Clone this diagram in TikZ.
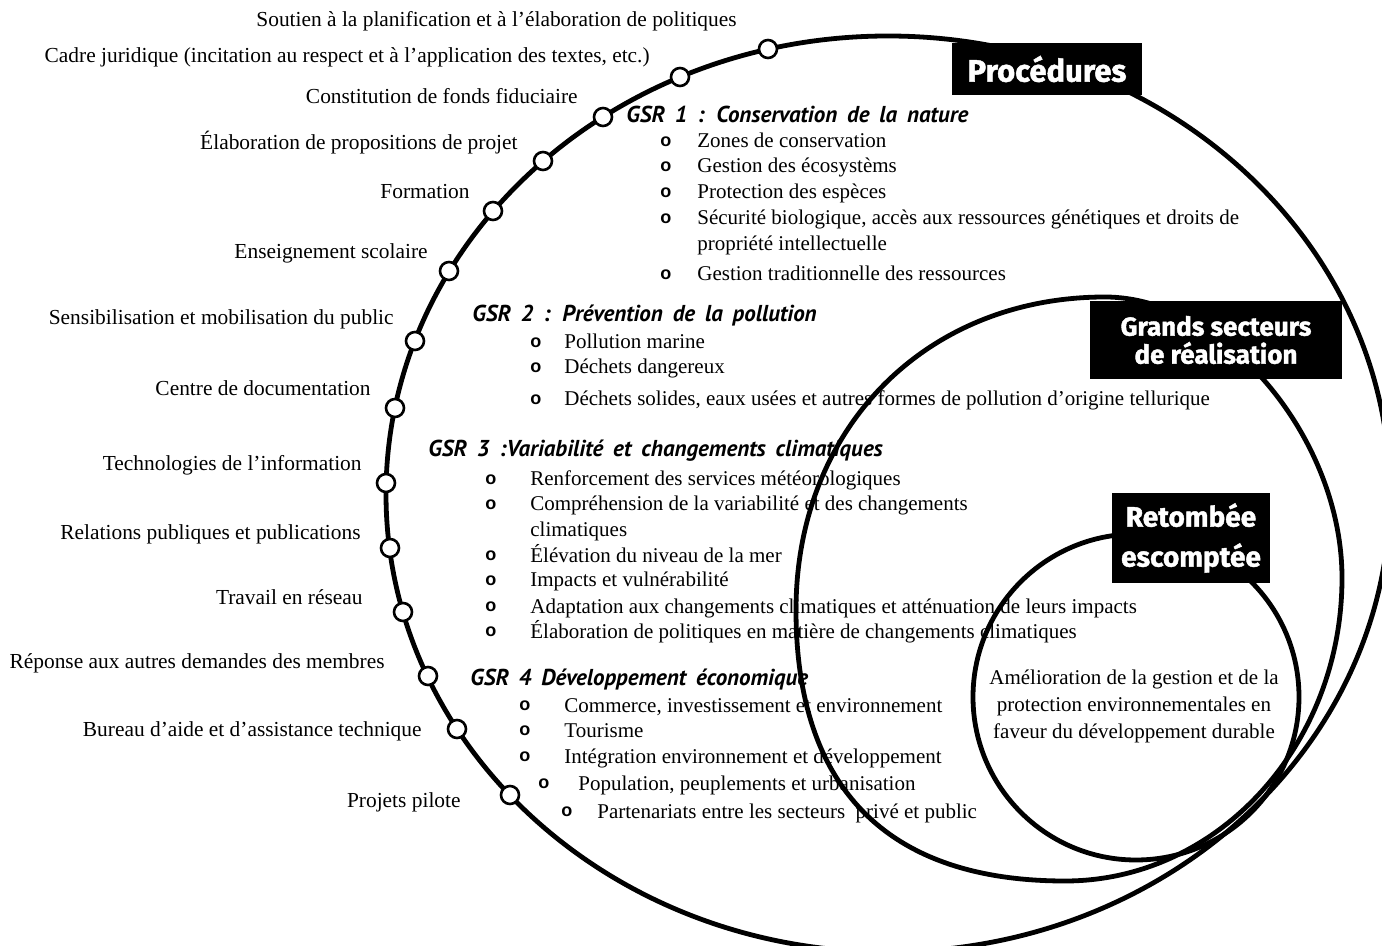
\documentclass[tikz,border=0pt]{standalone}
\usepackage{fontspec}
\setmainfont{Liberation Serif}
\newfontfamily\gsrfont{PT Sans}[WordSpace=1.7]
\newfontfamily\tagfont{Fira Sans}[BoldFeatures={FakeBold=1.5}]
\newfontfamily\pucefont{Liberation Sans}
\newcommand{\puce}[1]{\makebox[#1][l]{\raisebox{0.8pt}{\pucefont\bfseries\fontsize{9}{9}\selectfont o}}}

\begin{document}
\begin{tikzpicture}[x=0.5pt,y=-0.5pt,
  ligne/.style={line width=2.4pt},
  pt/.style={circle,draw,fill=white,line width=1.3pt,minimum size=9pt,inner sep=0pt},
  lab/.style={anchor=base east,inner sep=0pt,font=\fontsize{10.7}{12.8}\selectfont},
  itm/.style={anchor=base west,inner sep=0pt,font=\fontsize{10.5}{12.6}\selectfont},
  gsr/.style={anchor=base west,inner sep=0pt,font=\gsrfont\bfseries\itshape\fontsize{11.5}{13}\selectfont},
  tag/.style={fill=black,text=white,align=center,inner sep=0pt}]
  \useasboundingbox (0,0) rectangle (1382,946);

  % Procedures
  \draw[ligne] (888,494) ellipse [x radius=502, y radius=458];
  % Grands secteurs
  \draw[ligne] (796,610) .. controls (796,428) and (926,297) .. (1105,297)
    .. controls (1224,297) and (1342,438) .. (1342,578)
    .. controls (1342,745) and (1218,881) .. (1065,881)
    .. controls (888,881) and (796,789) .. cycle;
  % Retombee
  \draw[ligne] (1136,697) circle[radius=163];

  \node[pt] (d1) at (768,49) {};
  \node[pt] (d2) at (680,77) {};
  \node[pt] (d3) at (603,117) {};
  \node[pt] (d4) at (543,161) {};
  \node[pt] (d5) at (493,211) {};
  \node[pt] (d6) at (449,271) {};
  \node[pt] (d7) at (415,341) {};
  \node[pt] (d8) at (395,408) {};
  \node[pt] (d9) at (386,483) {};
  \node[pt] (d10) at (390,548) {};
  \node[pt] (d11) at (403,612) {};
  \node[pt] (d12) at (428,676) {};
  \node[pt] (d13) at (457,729) {};
  \node[pt] (d14) at (510,795) {};

  \node[lab] (l1) at (737,27) {Soutien à la planification et à l’élaboration de politiques};
  \node[lab] (l2) at (650,63) {Cadre juridique (incitation au respect et à l’application des textes, etc.)};
  \node[lab] (l3) at (578,104) {Constitution de fonds fiduciaire};
  \node[lab] (l4) at (518,150) {Élaboration de propositions de projet};
  \node[lab] (l5) at (470,199) {Formation};
  \node[lab] (l6) at (428,259) {Enseignement scolaire};
  \node[lab] (l7) at (394,325) {Sensibilisation et mobilisation du public};
  \node[lab] (l8) at (371,396) {Centre de documentation};
  \node[lab] (l9) at (362,471) {Technologies de l’information};
  \node[lab] (l10) at (361,539) {Relations publiques et publications};
  \node[lab] (l11) at (363,604) {Travail en réseau};
  \node[lab] (l12) at (385,668) {Réponse aux autres demandes des membres};
  \node[lab] (l13) at (422,736) {Bureau d’aide et d’assistance technique};
  \node[lab] (l14) at (461,807) {Projets pilote};

  % GSR 1
  \node[gsr] (g1) at (626,123) {GSR 1 : Conservation de la nature};
  \node[itm] (g1a) at (660,148) {\puce{18.5pt}Zones de conservation};
  \node[itm] (g1b) at (660,173) {\puce{18.5pt}Gestion des écosystèms};
  \node[itm] (g1c) at (660,199) {\puce{18.5pt}Protection des espèces};
  \node[itm] (g1d) at (660,225) {\puce{18.5pt}\begin{tabular}[t]{@{}l@{}}Sécurité biologique, accès aux ressources génétiques et droits de\\propriété intellectuelle\end{tabular}};
  \node[itm] (g1e) at (660,281) {\puce{18.5pt}Gestion traditionnelle des ressources};
  % GSR 2
  \node[gsr] (g2) at (472,322) {GSR 2 : Prévention de la pollution};
  \node[itm] (g2a) at (530,349) {\puce{17pt}Pollution marine};
  \node[itm] (g2b) at (530,374) {\puce{17pt}Déchets dangereux};
  \node[itm] (g2c) at (530,406) {\puce{17pt}Déchets solides, eaux usées et autres formes de pollution d’origine tellurique};
  % GSR 3
  \node[gsr] (g3) at (428,457) {GSR 3 :Variabilité et changements climatiques};
  \node[itm] (g3a) at (485,486) {\puce{22.5pt}Renforcement des services météorologiques};
  \node[itm] (g3b) at (485,511) {\puce{22.5pt}\begin{tabular}[t]{@{}l@{}}Compréhension de la variabilité et des changements\\climatiques\end{tabular}};
  \node[itm] (g3c) at (485,562) {\puce{22.5pt}Élévation du niveau de la mer};
  \node[itm] (g3d) at (485,587) {\puce{22.5pt}Impacts et vulnérabilité};
  \node[itm] (g3e) at (485,613) {\puce{22.5pt}Adaptation aux changements climatiques et atténuation de leurs impacts};
  \node[itm] (g3f) at (485,638) {\puce{22.5pt}Élaboration de politiques en matière de changements climatiques};
  % GSR 4
  \node[gsr] (g4) at (470,685) {GSR 4 Développement économique};
  \node[itm] (g4a) at (519,712) {\puce{22.5pt}Commerce, investissement et environnement};
  \node[itm] (g4b) at (519,737) {\puce{22.5pt}Tourisme};
  \node[itm] (g4c) at (519,763) {\puce{22.5pt}Intégration environnement et développement};
  \node[itm] (g4d) at (538,790) {\puce{20pt}Population, peuplements et urbanisation};
  \node[itm] (g4e) at (561,818) {\puce{18pt}Partenariats entre les secteurs~ privé et public};

  % etiquettes
  \node[tag,minimum width=95pt,minimum height=26pt,font=\tagfont\bfseries\fontsize{15.5}{18}\selectfont] (proc) at (1047,69) {Procédures};
  \node[tag,minimum width=126pt,minimum height=39pt,font=\tagfont\bfseries\fontsize{13}{14}\selectfont] (gsec) at (1216,340) {Grands secteurs\\de réalisation};
  \node[tag,minimum width=79pt,minimum height=45pt,font=\tagfont\bfseries\fontsize{14}{20}\selectfont] (ret) at (1191,538) {Retombée\\escomptée};
  \node[align=center,inner sep=0pt,font=\fontsize{10.5}{13.5}\selectfont] (res) at (1134,706) {Amélioration de la gestion et de la\\protection environnementales en\\faveur du développement durable};
\end{tikzpicture}
\end{document}
